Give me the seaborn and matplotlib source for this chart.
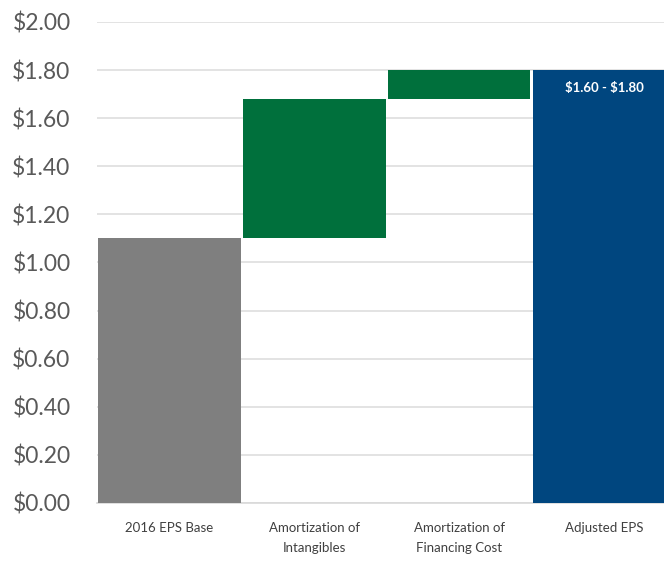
import matplotlib
matplotlib.use("Agg")
import matplotlib.pyplot as plt
import seaborn as sns
import pandas as pd

# EPS bridge values
categories = ["2016 EPS Base", "Amortization of\nIntangibles",
              "Amortization of\nFinancing Cost", "Adjusted EPS"]
starts = [0.0, 1.10, 1.68, 0.0]
ends = [1.10, 1.68, 1.80, 1.80]
guidance_low, guidance_high = 1.60, 1.80
colors = ["#7f7f7f", "#00703c", "#00703c", "#00467f"]
yticks = [0.0, 0.2, 0.4, 0.6, 0.8, 1.0, 1.2, 1.4, 1.6, 1.8, 2.0]

sns.set_theme(style="white")
plt.rcParams["font.family"] = ["Lato", "DejaVu Sans"]

fig = plt.figure(figsize=(6.64, 5.63), dpi=100)
ax = fig.add_axes([0.146, 0.1066, 0.854, 0.8544])

for cat, s, e, c in zip(categories, starts, ends, colors):
    df = pd.DataFrame({"step": [cat], "height": [e - s]})
    sns.barplot(data=df, x="step", y="height", order=categories, bottom=s,
                color=c, saturation=1, width=0.985, ax=ax, zorder=3,
                edgecolor="none")

ax.text(3, guidance_high - 0.075,
        f"\\${guidance_low:.2f} - \\${guidance_high:.2f}",
        ha="center", va="center", color="white", fontsize=9.5,
        fontweight="bold", zorder=4)

ax.set_ylim(0, 2.0)
ax.set_xlim(-0.5, 3.414)
ax.set_yticks(yticks)
ax.set_yticklabels([f"\\${v:.2f}" for v in yticks], fontsize=16.5,
                   color="#595959")
ax.tick_params(axis="y", length=0, pad=19)
ax.tick_params(axis="x", length=0, pad=14, labelsize=9.5, labelcolor="#404040")
for lbl in ax.get_xticklabels():
    lbl.set_linespacing(1.8)
ax.set_xlabel("")
ax.set_ylabel("")
ax.yaxis.grid(True, color="#dedede", linewidth=1.2, zorder=0)
ax.set_axisbelow(True)
for side in ["top", "right", "left"]:
    ax.spines[side].set_visible(False)
ax.spines["bottom"].set_color("#d9d9d9")
ax.spines["bottom"].set_linewidth(1.2)

fig.savefig("out.png", dpi=100)
